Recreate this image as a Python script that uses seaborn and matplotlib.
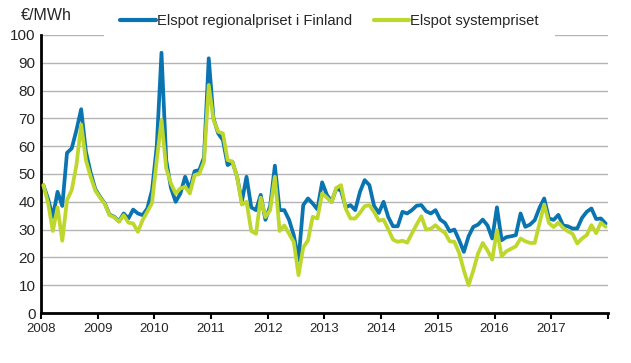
import matplotlib
matplotlib.use("Agg")
import matplotlib.pyplot as plt
import numpy as np
import pandas as pd
import seaborn as sns

years = [str(y) for y in range(2008, 2018)]

# monthly averages, Jan 2008 .. Dec 2017 (EUR/MWh)
finland = [
    46, 41, 34.5, 43.6, 38.5, 57.6, 59.2, 65.8, 73.3, 58, 50.5, 44.5,
    41.8, 39.4, 35.4, 34.6, 33, 35.8, 34, 37.2, 35.8, 35.2, 37.6, 44.2,
    60, 93.6, 55, 45, 40, 43, 49, 44.5, 51, 51.4, 56, 91.6,
    70, 64.6, 62.2, 53.2, 54.4, 49, 40, 49, 38, 37, 42.5, 33.5,
    38.5, 53, 37, 37, 33.5, 28, 19, 38.8, 41.2, 39.4, 37.3, 47,
    42.5, 40, 44.8, 44, 38, 38.8, 37, 43.5, 47.8, 46, 38.5, 36,
    40, 34.5, 31.2, 31.2, 36.4, 35.8, 37, 38.6, 38.8, 36.6, 35.8, 37,
    33.6, 32.4, 29.4, 30, 26.2, 22, 27.6, 31, 31.8, 33.6, 31.5, 26.8,
    38, 26.2, 27.3, 27.6, 28, 35.8, 31, 31.8, 33.4, 37.8, 41.2, 34,
    33.5, 35.3, 31.5, 31.2, 30.4, 30.4, 34.2, 36.4, 37.6, 33.8, 34, 32.2,
]
system = [
    46, 39.5, 29.5, 38, 26, 40.6, 44.2, 53.2, 67.8, 55, 49, 44,
    41.5, 39.2, 35.2, 34.4, 32.8, 35.2, 32.5, 32.2, 29.2, 33.4, 36.4, 39.6,
    55, 69.4, 52, 46.6, 43, 44.8, 45.4, 43, 49.6, 50, 54.4, 82,
    69.5, 65.2, 64.6, 55, 54.5, 49, 39, 40, 29.5, 28.5, 41.5, 34.5,
    37, 49, 29.5, 31.5, 28.5, 25.5, 13.6, 23.6, 26.1, 34.6, 34, 43,
    41.5, 39.8, 45, 46, 37.5, 34, 34, 36, 38.4, 38.8, 36.3, 33.2,
    33.6, 30.1, 26.4, 25.6, 26, 25.3, 28.6, 31.8, 34.8, 30, 30.3, 31.6,
    30, 28.8, 25.8, 25.6, 21.6, 15.3, 10, 15.3, 21.4, 25.2, 22.5, 19.2,
    29.8, 20.4, 22.2, 23.1, 24, 26.8, 25.8, 25.2, 25.2, 32.2, 39, 32.4,
    30.9, 32.5, 30.6, 29.4, 28.5, 25, 26.8, 28, 31.6, 28.7, 32.5, 31,
]
labels = ["Elspot regionalpriset i Finland", "Elspot systempriset"]
colors = ["#0a74b0", "#bed72c"]


def main():
    sns.set_style("white")
    plt.rcParams["font.family"] = ["Liberation Sans", "DejaVu Sans"]

    months = np.arange(len(finland)) + 0.5
    df = pd.DataFrame({
        "month": np.concatenate([months, months]),
        "price": finland + system,
        "series": [labels[0]] * len(finland) + [labels[1]] * len(system),
    })

    fig = plt.figure(figsize=(6.31, 3.63), dpi=100)
    ax = fig.add_axes([0.065, 0.1377, 0.8985, 0.766])

    sns.lineplot(df, x="month", y="price", hue="series", palette=colors,
            linewidth=2.7, ax=ax, zorder=3)

    ax.set_xlim(0, 120)
    ax.set_ylim(0, 100)
    ax.set_xticks(np.arange(0, 121, 12))
    ax.set_xticklabels(years + [""])
    ax.set_yticks(np.arange(0, 101, 10))
    ax.yaxis.grid(True, color="#b4b4b4", linewidth=1)
    ax.set_axisbelow(True)
    ax.tick_params(axis="x", direction="out", length=4, width=1.5,
            color="black", labelsize=9.5, pad=3, bottom=True)
    ax.tick_params(axis="y", length=0, labelsize=11, pad=4)
    for s in ["top", "right"]:
        ax.spines[s].set_visible(False)
    for s in ["left", "bottom"]:
        ax.spines[s].set_color("black")
        ax.spines[s].set_linewidth(2)
    ax.set_xlabel("")
    ax.set_ylabel("")

    fig.text(0.033, 0.938, "€/MWh", fontsize=11.5, va="bottom", ha="left")

    leg = ax.legend(loc="center", bbox_to_anchor=(0.522, 0.942),
            bbox_transform=fig.transFigure, ncol=2,
            frameon=True, facecolor="white", edgecolor="none", framealpha=1,
            fontsize=10.6, handlelength=2.4, handletextpad=0.05,
            columnspacing=1.5, borderpad=1.1)
    for line in leg.get_lines():
        line.set_linewidth(3)

    fig.savefig("out.png", dpi=100)


if __name__ == "__main__":
    main()
